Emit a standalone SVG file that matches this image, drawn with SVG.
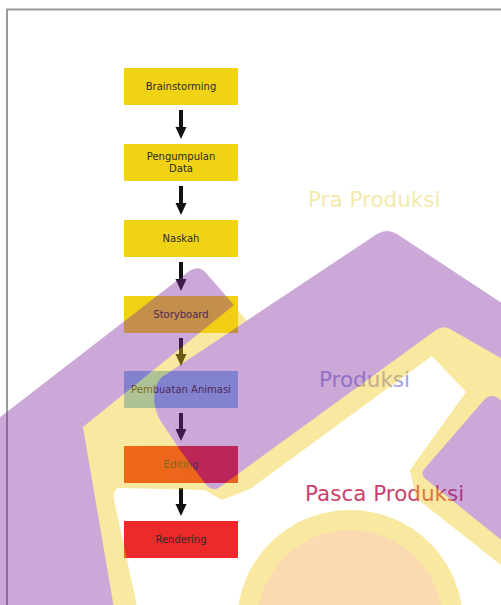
<svg xmlns="http://www.w3.org/2000/svg" width="501" height="605" viewBox="0 0 501 605">
<style>
.box{stroke:none}
.yel{fill:#f1d315}
.lbl{font-family:"DejaVu Sans","Liberation Sans",sans-serif;font-size:10px;fill:#2a2a2a;text-anchor:middle}
.big{font-family:"DejaVu Sans","Liberation Sans",sans-serif;font-size:21.5px}
.arr{fill:#111}
.wp{fill:#82299f}
.wy{fill:#f2c811}
.wk{fill:#f7a53e}
</style>
<defs>
<linearGradient id="gEdit" x1="0" x2="1" y1="0" y2="0"><stop offset="0" stop-color="#ec2a1c"/><stop offset="1" stop-color="#e4202c"/></linearGradient>
</defs>
<rect width="501" height="605" fill="#ffffff"/>
<g id="frame" stroke="#9a9a9a" stroke-width="2" fill="none">
<line x1="6" y1="9.5" x2="501" y2="9.5"/>
<line x1="7" y1="9" x2="7" y2="605"/>
</g>
<g id="connectors">
<path class="arr" d="M179,110 H183 V127 H186.5 L181,139 L175.5,127 H179 Z"/>
<path class="arr" d="M179,186 H183 V203 H186.5 L181,215 L175.5,203 H179 Z"/>
<path class="arr" d="M179,262 H183 V279 H186.5 L181,291 L175.5,279 H179 Z"/>
<path class="arr" d="M179,338 H183 V354 H186.5 L181,366 L175.5,354 H179 Z"/>
<path class="arr" d="M179,413 H183 V429 H186.5 L181,441 L175.5,429 H179 Z"/>
<path class="arr" d="M179,488 H183 V504 H186.5 L181,516 L175.5,504 H179 Z"/>
</g>
<g id="n-brainstorming"><rect class="box yel" x="124" y="68" width="114" height="37"/><text class="lbl" x="181" y="90">Brainstorming</text></g>
<g id="n-pengumpulan"><rect class="box yel" x="124" y="144" width="114" height="37"/><text class="lbl" x="181" y="160">Pengumpulan</text><text class="lbl" x="181" y="172">Data</text></g>
<g id="n-naskah"><rect class="box yel" x="124" y="220" width="114" height="37"/><text class="lbl" x="181" y="242">Naskah</text></g>
<g id="n-storyboard"><rect class="box yel" x="124" y="296" width="114" height="37"/><text class="lbl" x="181" y="318">Storyboard</text></g>
<g id="n-animasi"><rect class="box" fill="#82bef0" x="124" y="371" width="114" height="37"/><text class="lbl" x="181" y="393">Pembuatan Animasi</text></g>
<g id="n-editing"><rect class="box" fill="url(#gEdit)" x="124" y="446" width="114" height="37"/><text class="lbl" x="181" y="468">Editing</text></g>
<g id="n-rendering"><rect class="box" fill="#ec2a2a" x="124" y="521" width="114" height="37"/><text class="lbl" x="181" y="543">Rendering</text></g>
<g id="labels">
<text class="big" x="308" y="207" fill="#f4e9ac">Pra Produksi</text>
<text class="big" x="319" y="387" fill="#a0a0e6">Produksi</text>
<text class="big" x="305" y="501" fill="#cc3f6b" font-size="22.5">Pasca Produksi</text>
</g>
<g id="watermark" opacity="0.4">
<path class="wy" fill-rule="evenodd" d="M78,428 L234,305 L247,321 L300,320 L420,300 L520,340 L520,620 L112,620 Z M118,488 L205,490 L222,500 L250,489 L432,356 L466,392 L410,470 L416,498 L520,580 L520,620 L140,620 L114,500 Q113,490 118,488 Z"/>
<circle class="wy" cx="350" cy="623" r="113"/>
<circle class="wk" cx="350" cy="623" r="93"/>
<path class="wp" d="M-10,425 L188,272 Q199,264 206,273 L234,305 L83,427 L116,620 L-10,620 Z"/>
<path class="wp" d="M165,375 L377,234 Q387,228 397,234 L520,315 L520,369 L450,329 Q443,325 436,330 L220,487 Q213,492 207,486 L180,450 L160,420 Q152,405 155,390 Q158,378 165,375 Z"/>
<path class="wp" d="M426,467 L484,400 Q490,393 498,398 L520,417 L520,555 L428,481 Q418,474 426,467 Z"/>
</g>
</svg>
